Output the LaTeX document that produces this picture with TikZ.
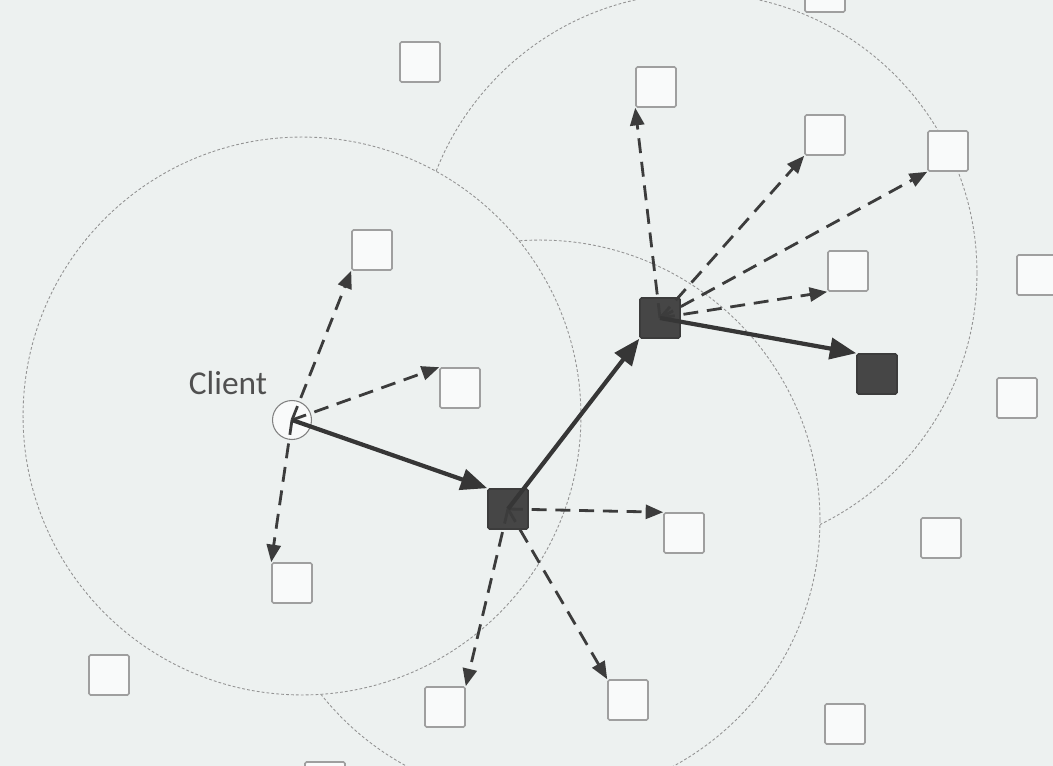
\documentclass[tikz,border=0pt]{standalone}
\usepackage{fontspec}
\setsansfont{Carlito}
\usetikzlibrary{arrows.meta}
\definecolor{paper}{RGB}{237,241,240}
\definecolor{ink}{RGB}{60,60,60}
\begin{document}
\begin{tikzpicture}[x=0.02cm,y=-0.02cm,
  reach/.style={draw=gray!85, fill=paper, line width=0.5pt, dash pattern=on 1.6pt off 1.2pt},
  peer/.style={draw=gray!75, fill=white!65!paper, line width=0.9pt,
    rounded corners=0.8pt, minimum size=0.8cm, inner sep=0pt},
  hop/.style={peer, draw=ink, fill=ink!95},
  client/.style={circle, draw=gray, fill=white!65!paper, line width=0.6pt,
    minimum size=0.78cm, inner sep=0pt},
  query/.style={draw=ink, line width=1.6pt, dash pattern=on 8.5pt off 5pt,
    -{Triangle[length=10pt,width=8pt]}},
  route/.style={draw=ink!90!black, line width=2.4pt,
    -{Triangle[length=15pt,width=12pt]}}]
  \useasboundingbox (0,0) rectangle (1053,766);
  \clip (0,0) rectangle (1053,766);
  \fill[paper] (0,0) rectangle (1053,766);
  \draw[reach] (697,273) circle [radius=5.6cm];
  \draw[reach] (540,520) circle [radius=5.6cm];
  \draw[reach] (302,416) circle [radius=5.58cm];
  \node[peer] (p1) at (825,-8) {};
  \node[peer] (p2) at (420,62) {};
  \node[peer] (p3) at (656,87) {};
  \node[peer] (p4) at (825,135) {};
  \node[peer] (p5) at (948,151) {};
  \node[peer] (p6) at (372,250) {};
  \node[peer] (p7) at (848,271) {};
  \node[peer] (p8) at (1037,275) {};
  \node[peer] (p9) at (460,388) {};
  \node[peer] (p10) at (1017,398) {};
  \node[peer] (p11) at (684,533) {};
  \node[peer] (p12) at (941,538) {};
  \node[peer] (p13) at (292,583) {};
  \node[peer] (p14) at (109,675) {};
  \node[peer] (p15) at (445,707) {};
  \node[peer] (p16) at (628,700) {};
  \node[peer] (p17) at (845,724) {};
  \node[peer] (p18) at (325,782) {};
  \node[hop] (h1) at (508,509) {};
  \node[hop] (h2) at (660,318) {};
  \node[hop] (h3) at (877,374) {};
  \node[client] (c) at (292,420) {};
  \node[font=\sffamily\fontsize{19}{22}\selectfont, text=ink!90] (lbl) at (228,383) {Client};
  \draw[query] (c.center) -- (p6.south west);
  \draw[query] (c.center) -- (p9.north west);
  \draw[query] (c.center) -- (p13.north west);
  \draw[query] (h1.center) -- (p11.north west);
  \draw[query] (h1.center) -- (p15.north east);
  \draw[query] (h1.center) -- (p16.north west);
  \draw[query] (h2.center) -- (p3.south west);
  \draw[query] (h2.center) -- (p4.south west);
  \draw[query] (h2.center) -- (p5.south west);
  \draw[query] (h2.center) -- (p7.south west);
  \draw[route] (c.center) -- (h1.north west);
  \draw[route] (h1.center) -- (h2.south west);
  \draw[route] (h2.center) -- (h3.north west);
\end{tikzpicture}
\end{document}
